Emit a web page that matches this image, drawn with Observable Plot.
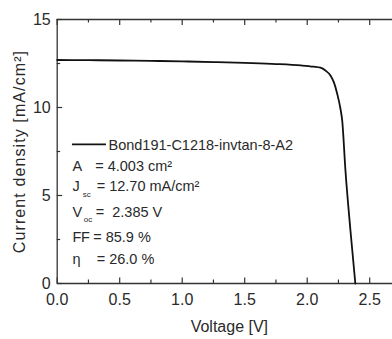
<!DOCTYPE html>
<html>
<head>
<meta charset="utf-8">
<script src="https://cdn.jsdelivr.net/npm/d3@7"></script>
<script src="https://cdn.jsdelivr.net/npm/@observablehq/plot@0.6"></script>
<style>
  html, body { margin: 0; padding: 0; background: #ffffff; }
  #chart { width: 392px; height: 339px; overflow: hidden; }
  .ylab text { letter-spacing: 1.1px; }
  .ffname text { letter-spacing: -0.4px; }
</style>
</head>
<body>
<div id="chart"></div>
<script>
// J-V curve data
const voltage = [0, 0.25, 0.5, 0.75, 1.0, 1.25, 1.5, 1.75, 1.95, 2.05, 2.106, 2.146, 2.186, 2.213, 2.24, 2.266, 2.28, 2.306, 2.346, 2.385];
const current = [12.70, 12.69, 12.67, 12.65, 12.62, 12.58, 12.53, 12.47, 12.39, 12.32, 12.26, 12.10, 11.82, 11.44, 10.78, 9.93, 9.26, 6.42, 3.01, 0];

const xMajor = [0, 0.5, 1.0, 1.5, 2.0, 2.5];
const xMinor = [0.25, 0.75, 1.25, 1.75, 2.25];
const xTickLabels = ["0.0", "0.5", "1.0", "1.5", "2.0", "2.5"];
const yMajor = [0, 5, 10, 15];
const yMinor = [2.5, 7.5, 12.5];
const yTickLabels = ["0", "5", "10", "15"];

const xLabel = "Voltage [V]";
const yLabel = "Current density [mA/cm²]";
const seriesName = "Bond191-C1218-invtan-8-A2";
const paramNames = ["A", "J", "V", "FF", "η"];
const paramSubs = ["", "sc", "oc", "", ""];
const paramValues = ["= 4.003 cm²", "= 12.70 mA/cm²", "=  2.385 V", "= 85.9 %", "= 26.0 %"];

// legend layout (pixels from frame top-left)
const rowDy = [146.4, 166.4, 192.4, 217.4, 239.4];
const valueDx = [38, 39.5, 38.5, 36, 39.5];
const subDx = [0, 25.5, 26.5, 0, 0];
const subDy = [0, 175.4, 200.4, 0, 0];

const font = "'Liberation Sans', Arial, Helvetica, sans-serif";
const ink = "#2a2a2a";
const axisInk = "#333";

const rows = voltage.map((v, i) => ({v, j: current[i]}));

const mTop = 19, mBottom = 56, mLeft = 56.7, W = 392, H = 339;
const innerH = H - mTop - mBottom;
const innerW = W - mLeft;

const textMarks = [];
paramNames.forEach((n, i) => {
  textMarks.push(Plot.text([n], {text: d => d, frameAnchor: "top-left", dx: 15.3, dy: rowDy[i], textAnchor: "start", lineAnchor: "middle", fontSize: 14.5, fill: ink, className: n === "FF" ? "ffname" : undefined}));
  if (paramSubs[i]) {
    textMarks.push(Plot.text([paramSubs[i]], {text: d => d, frameAnchor: "top-left", dx: subDx[i], dy: subDy[i], textAnchor: "start", lineAnchor: "middle", fontSize: 8, fill: ink}));
  }
  textMarks.push(Plot.text([paramValues[i]], {text: d => d, frameAnchor: "top-left", dx: valueDx[i], dy: rowDy[i], textAnchor: "start", lineAnchor: "middle", fontSize: 14.5, fill: ink}));
});

const chart = Plot.plot({
  width: W,
  height: H,
  marginLeft: mLeft,
  marginRight: 0,
  marginTop: mTop,
  marginBottom: mBottom,
  style: {fontFamily: font, background: "#ffffff", color: ink, overflow: "hidden"},
  x: {domain: [0, (W - mLeft) / 125]},
  y: {domain: [0, 15]},
  marks: [
    Plot.axisX(xMajor, {tickSize: 0, tickPadding: 10.5, tickFormat: d => xTickLabels[xMajor.indexOf(d)], fontSize: 16, fill: ink, label: null}),
    Plot.axisY(yMajor, {tickSize: 0, tickPadding: 6.5, tickFormat: d => yTickLabels[yMajor.indexOf(d)], fontSize: 16, fill: ink, label: null}),
    // inward ticks, bottom and top
    Plot.tickX(xMajor, {x: d => d, insetTop: innerH - 5.5, stroke: axisInk, strokeWidth: 1.2}),
    Plot.tickX(xMinor, {x: d => d, insetTop: innerH - 3.5, stroke: axisInk, strokeWidth: 1.2}),
    Plot.tickX(xMajor, {x: d => d, insetBottom: innerH - 6, stroke: axisInk, strokeWidth: 1.2}),
    Plot.tickX(xMinor, {x: d => d, insetBottom: innerH - 3.5, stroke: axisInk, strokeWidth: 1.2}),
    // inward ticks, left
    Plot.tickY(yMajor, {y: d => d, insetRight: innerW - 5.5, stroke: axisInk, strokeWidth: 1.2}),
    Plot.tickY(yMinor, {y: d => d, insetRight: innerW - 3.5, stroke: axisInk, strokeWidth: 1.2}),
    // frame
    Plot.ruleY([0, 15], {stroke: axisInk, strokeWidth: 1.3}),
    Plot.ruleX([0], {stroke: axisInk, strokeWidth: 1.3}),
    // curve
    Plot.line(rows, {x: "v", y: "j", curve: "monotone-x", stroke: "#111", strokeWidth: 1.8}),
    // legend sample
    Plot.ruleY([7.9], {x1: 0.122, x2: 0.394, stroke: "#111", strokeWidth: 1.8}),
    Plot.text([seriesName], {text: d => d, frameAnchor: "top-left", dx: 51.3, dy: 125.4, textAnchor: "start", lineAnchor: "middle", fontSize: 14.5, fill: ink}),
    ...textMarks,
    // axis titles
    Plot.text([xLabel], {text: d => d, frameAnchor: "bottom", dx: 4.5, dy: 43.6, textAnchor: "middle", lineAnchor: "middle", fontSize: 16, fill: ink}),
    Plot.text([yLabel], {text: d => d, frameAnchor: "left", dx: -37.7, rotate: -90, textAnchor: "middle", lineAnchor: "middle", fontSize: 16, fill: ink, className: "ylab"})
  ]
});

document.getElementById("chart").appendChild(chart);
</script>
</body>
</html>
